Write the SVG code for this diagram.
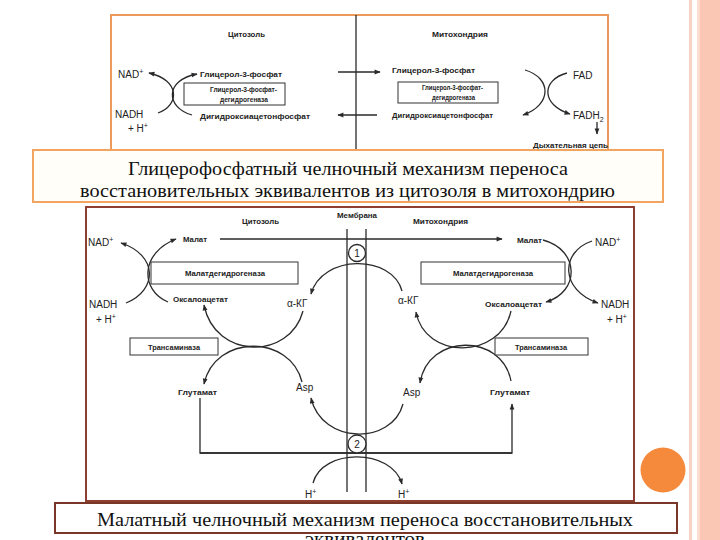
<svg xmlns="http://www.w3.org/2000/svg" width="720" height="540" viewBox="0 0 720 540">
<defs>
<style>
.lb{font-family:"Liberation Sans",Arial,sans-serif;font-weight:bold;font-size:7.5px;fill:#222}
.ch{font-family:"Liberation Sans",Arial,sans-serif;font-size:10px;fill:#222}
.sm{font-size:7px}
.ln{fill:none;stroke:#2a2a2a;stroke-width:1.3}
.bx{fill:#fff;stroke:#333;stroke-width:1}
.cap{font-family:"Liberation Serif","Times New Roman",serif;font-size:18px;fill:#111}
</style>
<marker id="ah" viewBox="0 0 10 10" refX="9" refY="5" markerWidth="7" markerHeight="6" markerUnits="userSpaceOnUse" orient="auto"><path d="M0,1 L10,5 L0,9 z" fill="#2a2a2a"/></marker>
</defs>
<rect width="720" height="540" fill="#fff"/>
<!-- decoration -->
<rect x="689" y="0" width="3" height="540" fill="#F8D2C2"/>
<rect x="697" y="0" width="3" height="540" fill="#FBDCCF"/>
<rect x="700" y="0" width="20" height="540" fill="#F9C7B3"/>

<!-- top diagram -->
<g id="top-frame"><rect x="111" y="15" width="497" height="140" fill="#fff" stroke="#EC9A5C" stroke-width="2"/></g>
<g id="top-connectors">
<line class="ln" x1="356" y1="15" x2="356" y2="150"/>
<line class="ln" x1="338" y1="72" x2="380" y2="72" marker-end="url(#ah)"/>
<line class="ln" x1="377" y1="115" x2="338" y2="115" marker-end="url(#ah)"/>
<path class="ln" d="M158,113 C180,105 180,80 149,73" marker-end="url(#ah)"/>
<path class="ln" d="M192,115 C165,107 165,80 197,74" marker-end="url(#ah)"/>
<path class="ln" d="M525,70 C552,78 552,105 523,115" marker-end="url(#ah)"/>
<path class="ln" d="M567,73 C541,80 541,105 570,114" marker-end="url(#ah)"/>
<line class="ln" x1="597" y1="122" x2="597" y2="134" marker-end="url(#ah)"/>
</g>
<g id="t-cyto"><text class="lb" x="228" y="37" textLength="37" lengthAdjust="spacingAndGlyphs">Цитозоль</text></g>
<g id="t-mito"><text class="lb" x="432" y="37" textLength="56" lengthAdjust="spacingAndGlyphs">Митохондрия</text></g>
<g id="t-nad"><text class="ch" x="118" y="78">NAD<tspan class="sm" dy="-4">+</tspan></text></g>
<g id="t-nadh"><text class="ch" x="115" y="118">NADH</text><text class="ch" x="128" y="132">+ H<tspan class="sm" dy="-4">+</tspan></text></g>
<g id="t-g3p-l"><text class="lb" x="200" y="77" textLength="82" lengthAdjust="spacingAndGlyphs">Глицерол-3-фосфат</text></g>
<g id="t-enz-l"><rect class="bx" x="184" y="83" width="101" height="22"/>
<text class="lb" x="210" y="92" textLength="67" lengthAdjust="spacingAndGlyphs">Глицерол-3-фосфат-</text>
<text class="lb" x="220" y="102" textLength="48" lengthAdjust="spacingAndGlyphs">дегидрогеназа</text></g>
<g id="t-dhap-l"><text class="lb" x="200" y="119" textLength="110" lengthAdjust="spacingAndGlyphs">Дигидроксиацетонфосфат</text></g>
<g id="t-g3p-r"><text class="lb" x="392" y="73" textLength="83" lengthAdjust="spacingAndGlyphs">Глицерол-3-фосфат</text></g>
<g id="t-enz-r"><rect class="bx" x="398" y="82" width="100" height="21"/>
<text class="lb" x="422" y="90" textLength="61" lengthAdjust="spacingAndGlyphs">Глицерол-3-фосфат-</text>
<text class="lb" x="432" y="100" textLength="43" lengthAdjust="spacingAndGlyphs">дегидрогеназа</text></g>
<g id="t-dhap-r"><text class="lb" x="392" y="118" textLength="101" lengthAdjust="spacingAndGlyphs">Дигидроксиацетонфосфат</text></g>
<g id="t-fad"><text class="ch" x="573" y="79">FAD</text></g>
<g id="t-fadh2"><text class="ch" x="573" y="119">FADH<tspan class="sm" dy="3">2</tspan></text></g>
<g id="t-resp"><text class="lb" x="533" y="148" font-size="6.5" textLength="75" lengthAdjust="spacingAndGlyphs">Дыхательная цепь</text></g>

<g id="caption1"><rect x="33" y="150" width="630" height="52" fill="#FFFEF9" stroke="#F2A461" stroke-width="2"/>
<text class="cap" x="128" y="175" textLength="440" lengthAdjust="spacingAndGlyphs">Глицерофосфатный челночный механизм переноса</text>
<text class="cap" x="80" y="197" textLength="535" lengthAdjust="spacingAndGlyphs">восстановительных эквивалентов из цитозоля в митохондрию</text></g>

<!-- bottom diagram -->
<g id="bottom-frame"><rect x="86" y="207" width="548" height="294" fill="#fff" stroke="#8F3F2F" stroke-width="2"/></g>
<g id="connectors">
<line class="ln" x1="220" y1="239" x2="502" y2="239" marker-end="url(#ah)"/>
<line class="ln" x1="347" y1="229" x2="347" y2="492"/>
<line class="ln" x1="366" y1="229" x2="366" y2="492"/>
<line class="ln" x1="200" y1="453" x2="512" y2="453"/>
<path class="ln" d="M200,398 L200,453 L512,453 L512,404" marker-end="url(#ah)"/>
<path class="ln" d="M402,291 C392,254 322,254 311,294" marker-end="url(#ah)"/>
<path class="ln" d="M403,404 C392,445 322,445 311,398" marker-end="url(#ah)"/>
<path class="ln" d="M313,483 C322,448 392,448 402,484" marker-end="url(#ah)"/>
<path class="ln" d="M126,303 C158,290 158,255 121,243" marker-end="url(#ah)"/>
<path class="ln" d="M168,302 C140,290 140,253 176,239" marker-end="url(#ah)"/>
<path class="ln" d="M303,311 C290,360 215,360 204,305" marker-end="url(#ah)"/>
<path class="ln" d="M302,382 C290,334 215,334 204,384" marker-end="url(#ah)"/>
<path class="ln" d="M511,311 C500,360 425,360 416,312" marker-end="url(#ah)"/>
<path class="ln" d="M511,381 C502,333 428,333 420,383" marker-end="url(#ah)"/>
<path class="ln" d="M543,240 C580,250 580,292 546,302" marker-end="url(#ah)"/>
<path class="ln" d="M592,241 C560,252 560,290 598,303" marker-end="url(#ah)"/>
</g>
<g id="b-cyto"><text class="lb" x="242" y="224" textLength="37" lengthAdjust="spacingAndGlyphs">Цитозоль</text></g>
<g id="b-memb"><text class="lb" x="337" y="218" textLength="40" lengthAdjust="spacingAndGlyphs">Мембрана</text></g>
<g id="b-mito"><text class="lb" x="413" y="224" textLength="55" lengthAdjust="spacingAndGlyphs">Митохондрия</text></g>
<g id="carrier1"><circle cx="357" cy="253" r="8.5" fill="#fff" stroke="#2a2a2a" stroke-width="1.3"/><text class="ch" x="357" y="257" font-size="10" text-anchor="middle">1</text></g>
<g id="carrier2"><circle cx="357" cy="444" r="9" fill="#fff" stroke="#2a2a2a" stroke-width="1.3"/><text class="ch" x="357" y="448" font-size="10" text-anchor="middle">2</text></g>
<g id="l-nad"><text class="ch" x="88" y="246">NAD<tspan class="sm" dy="-4">+</tspan></text></g>
<g id="l-nadh"><text class="ch" x="89" y="308">NADH</text><text class="ch" x="96" y="323">+ H<tspan class="sm" dy="-4">+</tspan></text></g>
<g id="l-malate"><text class="lb" x="183" y="242" textLength="24" lengthAdjust="spacingAndGlyphs">Малат</text></g>
<g id="l-mdh"><rect class="bx" x="151" y="262" width="147" height="22"/><text class="lb" x="185" y="276" textLength="80" lengthAdjust="spacingAndGlyphs">Малатдегидрогеназа</text></g>
<g id="l-oaa"><text class="lb" x="173" y="302" textLength="55" lengthAdjust="spacingAndGlyphs">Оксалоацетат</text></g>
<g id="l-akg"><text class="ch" x="287" y="307" font-size="8.5">α-КГ</text></g>
<g id="l-trans"><rect class="bx" x="130" y="338" width="88" height="17"/><text class="lb" x="148" y="350" textLength="52" lengthAdjust="spacingAndGlyphs">Трансаминаза</text></g>
<g id="l-glu"><text class="lb" x="178" y="395" textLength="39" lengthAdjust="spacingAndGlyphs">Глутамат</text></g>
<g id="l-asp"><text class="ch" x="296" y="391" font-size="9">Asp</text></g>
<g id="r-nad"><text class="ch" x="595" y="246">NAD<tspan class="sm" dy="-4">+</tspan></text></g>
<g id="r-nadh"><text class="ch" x="601" y="308">NADH</text><text class="ch" x="607" y="323">+ H<tspan class="sm" dy="-4">+</tspan></text></g>
<g id="r-malate"><text class="lb" x="517" y="243" textLength="25" lengthAdjust="spacingAndGlyphs">Малат</text></g>
<g id="r-mdh"><rect class="bx" x="421" y="262" width="144" height="22"/><text class="lb" x="453" y="276" textLength="80" lengthAdjust="spacingAndGlyphs">Малатдегидрогеназа</text></g>
<g id="r-oaa"><text class="lb" x="485" y="307" textLength="57" lengthAdjust="spacingAndGlyphs">Оксалоацетат</text></g>
<g id="r-akg"><text class="ch" x="398" y="304" font-size="8.5">α-КГ</text></g>
<g id="r-trans"><rect class="bx" x="495" y="338" width="93" height="17"/><text class="lb" x="515" y="350" textLength="52" lengthAdjust="spacingAndGlyphs">Трансаминаза</text></g>
<g id="r-glu"><text class="lb" x="490" y="395" textLength="40" lengthAdjust="spacingAndGlyphs">Глутамат</text></g>
<g id="r-asp"><text class="ch" x="403" y="396" font-size="9">Asp</text></g>
<g id="h-left"><text class="ch" x="305" y="498" font-size="9">H<tspan class="sm" dy="-4">+</tspan></text></g>
<g id="h-right"><text class="ch" x="398" y="498" font-size="9">H<tspan class="sm" dy="-4">+</tspan></text></g>

<g id="caption2"><rect x="55" y="503" width="622" height="30" fill="#fff" stroke="#7A3626" stroke-width="2"/>
<text class="cap" x="97" y="526" textLength="536" lengthAdjust="spacingAndGlyphs">Малатный челночный механизм переноса восстановительных</text>
<text class="cap" x="305" y="545" textLength="120" lengthAdjust="spacingAndGlyphs">эквивалентов</text></g>
<g id="dot"><circle cx="663" cy="470" r="22.5" fill="#F68A3C"/></g>
</svg>
